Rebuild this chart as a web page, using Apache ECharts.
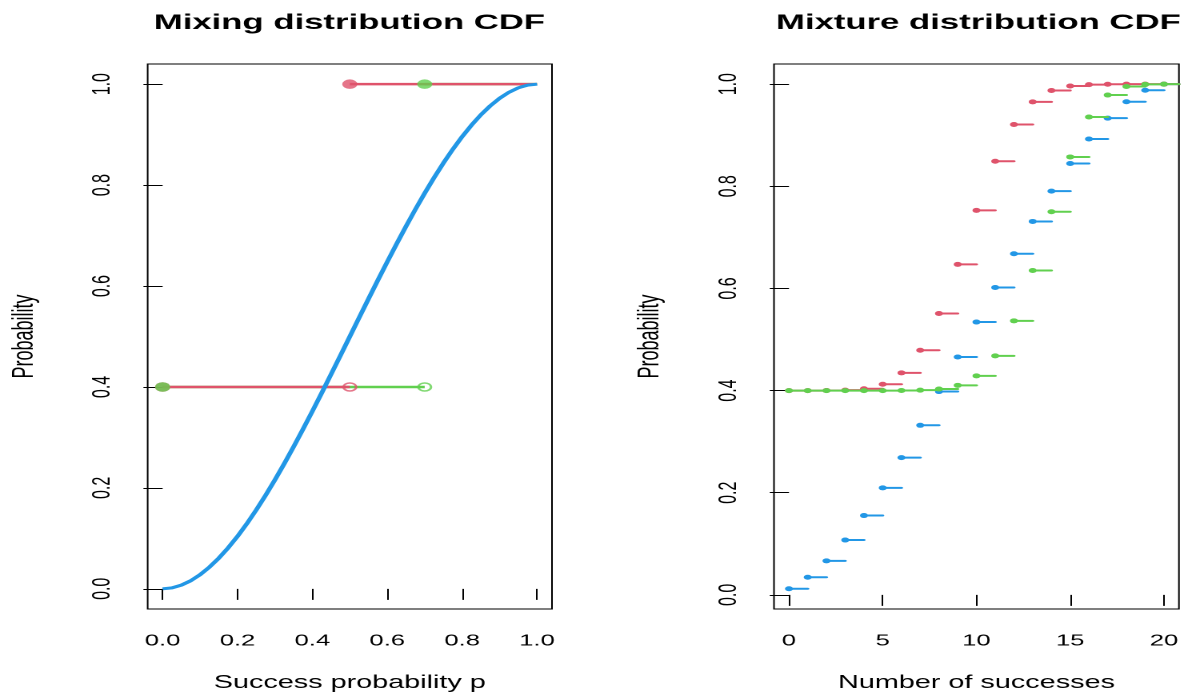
<!DOCTYPE html>
<html>
<head>
<meta charset="utf-8">
<script src="https://cdn.jsdelivr.net/npm/echarts@6/dist/echarts.min.js"></script>
<style>
  html, body { margin: 0; padding: 0; background: #ffffff; }
  #wrap { width: 1184px; height: 695px; overflow: hidden; position: relative; background: #fff; }
  #c { width: 740px; height: 695px; transform: scaleX(1.6); transform-origin: 0 0; }
</style>
</head>
<body>
<div id="wrap"><div id="c"></div></div>
<script>
// ---------- data ----------
const leftTitle = 'Mixing distribution CDF';
const rightTitle = 'Mixture distribution CDF';
const leftXName = 'Success probability p';
const rightXName = 'Number of successes';
const yName = 'Probability';

const leftXTicks = [0, 0.2, 0.4, 0.6, 0.8, 1.0];
const leftXTickLabels = ['0.0', '0.2', '0.4', '0.6', '0.8', '1.0'];
const yTicks = [0, 0.2, 0.4, 0.6, 0.8, 1.0];
const yTickLabels = ['0.0', '0.2', '0.4', '0.6', '0.8', '1.0'];
const rightXTicks = [0, 5, 10, 15, 20];
const rightXTickLabels = ['0', '5', '10', '15', '20'];

// mixing distributions (left): two point-mass mixes and a continuous curve
const redKnots = [0, 0.5];
const redMixCdf = [0.4, 1.0];
const greenKnots = [0, 0.7];
const greenMixCdf = [0.4, 1.0];
const leftXEnd = 1.0;

const curveP = [0, 0.025, 0.05, 0.075, 0.1, 0.125, 0.15, 0.175, 0.2, 0.225, 0.25, 0.275, 0.3, 0.325, 0.35, 0.375,
                0.4, 0.425, 0.45, 0.475, 0.5, 0.525, 0.55, 0.575, 0.6, 0.625, 0.65, 0.675, 0.7, 0.725, 0.75,
                0.775, 0.8, 0.825, 0.85, 0.875, 0.9, 0.925, 0.95, 0.975, 1.0];
const curveCdf = [0, 0.0018, 0.0073, 0.0160, 0.028, 0.0430, 0.0608, 0.0812, 0.104, 0.1291, 0.1563, 0.1853, 0.216,
                  0.2482, 0.2818, 0.3164, 0.352, 0.3883, 0.4253, 0.4625, 0.5, 0.5375, 0.5748, 0.6117, 0.648,
                  0.6836, 0.7183, 0.7518, 0.784, 0.8147, 0.8438, 0.8709, 0.896, 0.9188, 0.9393, 0.9570, 0.972,
                  0.9840, 0.9928, 0.9982, 1.0];

// mixture distributions (right): CDF at 0..20 successes
const successes = [0,1,2,3,4,5,6,7,8,9,10,11,12,13,14,15,16,17,18,19,20];
const redCdf = [0.4000, 0.4000, 0.4001, 0.4008, 0.4035, 0.4124, 0.4346, 0.4790, 0.5510, 0.6471, 0.7529,
                0.8490, 0.9211, 0.9654, 0.9876, 0.9965, 0.9992, 0.9999, 1.0000, 1.0000, 1.0000];
const greenCdf = [0.4000, 0.4000, 0.4000, 0.4000, 0.4000, 0.4000, 0.4002, 0.4008, 0.4031, 0.4103, 0.4288,
                  0.4680, 0.5366, 0.6352, 0.7502, 0.8575, 0.9357, 0.9787, 0.9954, 0.9995, 1.0000];
const blueCdf = [0.0119, 0.0344, 0.0666, 0.1073, 0.1553, 0.2095, 0.2688, 0.3320, 0.3981, 0.4658, 0.5342,
                 0.6019, 0.6680, 0.7312, 0.7905, 0.8447, 0.8927, 0.9334, 0.9656, 0.9881, 1.0000];

// ---------- style ----------
const RED = '#DF536B', GREEN = '#61D04F', BLUE = '#2297E6';
const FONT = '"Liberation Sans", Arial, Helvetica, sans-serif';
const LEFT_X_MIN = -0.04, LEFT_X_MAX = 1.04;
const RIGHT_X_MIN = -0.8, RIGHT_X_MAX = 20.8;
const LEFT_Y_MIN = -0.04, LEFT_Y_MAX = 1.04;
const RIGHT_Y_MIN = -0.0277, RIGHT_Y_MAX = 1.0395;

function lookup(ticks, labels) {
  return function (v) {
    let best = 0, bd = Infinity;
    ticks.forEach((t, i) => { const d = Math.abs(t - v); if (d < bd) { bd = d; best = i; } });
    return labels[best];
  };
}

function stepSegments(knots, cdf, end) {
  const segs = [];
  for (let i = 0; i < knots.length; i++) {
    const x1 = i + 1 < knots.length ? knots[i + 1] : end;
    segs.push([[knots[i], cdf[i]], [x1, cdf[i]]]);
  }
  return segs;
}
function openPoints(knots, cdf) {
  const pts = [];
  for (let i = 0; i + 1 < knots.length; i++) pts.push([knots[i + 1], cdf[i]]);
  return pts;
}
function closedPoints(knots, cdf) {
  return knots.map((k, i) => [k, cdf[i]]);
}

function xAxisCfg(gridIndex, min, max, ticks, labels, name) {
  return {
    gridIndex, type: 'value', min, max,
    name, nameLocation: 'middle', nameGap: 65,
    nameTextStyle: { fontFamily: FONT, fontSize: 18, color: '#000' },
    axisLine: { show: false },
    axisTick: { show: true, customValues: ticks, length: 11, lineStyle: { color: '#000', width: 1 } },
    axisLabel: { show: true, customValues: ticks, formatter: lookup(ticks, labels), margin: 24,
                 fontFamily: FONT, fontSize: 16, color: '#000' },
    splitLine: { show: false }
  };
}
function yAxisCfg(gridIndex, min, max) {
  return {
    gridIndex, type: 'value', min, max,
    name: yName, nameLocation: 'middle', nameGap: 68, nameRotate: 90,
    nameTextStyle: { fontFamily: FONT, fontSize: 18, color: '#000' },
    axisLine: { show: false },
    axisTick: { show: true, customValues: yTicks, length: 12, lineStyle: { color: '#000', width: 1 } },
    axisLabel: { show: true, customValues: yTicks, formatter: lookup(yTicks, yTickLabels), margin: 20, rotate: 90,
                 fontFamily: FONT, fontSize: 16, color: '#000' },
    splitLine: { show: false }
  };
}

function segSeries(segs, color) {
  return segs.map(s => ({
    type: 'line', xAxisIndex: 0, yAxisIndex: 0, data: s, symbol: 'none',
    lineStyle: { color, width: 2.5 }, silent: true, animation: false, z: 2
  }));
}

function stepRender(color) {
  return function (params, api) {
    const k = api.value(0), v = api.value(1);
    const p0 = api.coord([k, v]);
    const p1 = api.coord([Math.min(k + 1, RIGHT_X_MAX), v]);
    return {
      type: 'group',
      children: [
        { type: 'line', shape: { x1: p0[0], y1: p0[1], x2: p1[0], y2: p1[1] },
          style: { stroke: color, lineWidth: 2, lineCap: 'round' } },
        { type: 'circle', shape: { cx: p0[0], cy: p0[1], r: 2.5 }, style: { fill: color } }
      ]
    };
  };
}
function stepSeries(cdf, color, z) {
  return {
    type: 'custom', xAxisIndex: 1, yAxisIndex: 1, z,
    data: successes.map((k, i) => [k, cdf[i]]),
    renderItem: stepRender(color), clip: true, animation: false, silent: true
  };
}

const chart = echarts.init(document.getElementById('c'), null, { renderer: 'canvas', devicePixelRatio: 2 });
const option = {
  backgroundColor: '#ffffff',
  animation: false,
  title: [
    { text: leftTitle, left: 218.4, top: 12, padding: 0, textAlign: 'center',
      textStyle: { fontFamily: FONT, fontSize: 21.7, fontWeight: 'bold', color: '#000' } },
    { text: rightTitle, left: 611.5, top: 12, padding: 0, textAlign: 'center',
      textStyle: { fontFamily: FONT, fontSize: 21.7, fontWeight: 'bold', color: '#000' } }
  ],
  grid: [
    { left: 92.3, top: 64, width: 252.7, height: 545, show: true, borderColor: '#000', borderWidth: 1,
      backgroundColor: 'transparent', containLabel: false, outerBoundsMode: 'none' },
    { left: 483.75, top: 64, width: 253.1, height: 545, show: true, borderColor: '#000', borderWidth: 1,
      backgroundColor: 'transparent', containLabel: false, outerBoundsMode: 'none' }
  ],
  xAxis: [
    xAxisCfg(0, LEFT_X_MIN, LEFT_X_MAX, leftXTicks, leftXTickLabels, leftXName),
    xAxisCfg(1, RIGHT_X_MIN, RIGHT_X_MAX, rightXTicks, rightXTickLabels, rightXName)
  ],
  yAxis: [
    yAxisCfg(0, LEFT_Y_MIN, LEFT_Y_MAX),
    yAxisCfg(1, RIGHT_Y_MIN, RIGHT_Y_MAX)
  ],
  series: [
    ...segSeries(stepSegments(greenKnots, greenMixCdf, leftXEnd), GREEN),
    ...segSeries(stepSegments(redKnots, redMixCdf, leftXEnd), RED),
    { type: 'scatter', xAxisIndex: 0, yAxisIndex: 0, data: closedPoints(redKnots, redMixCdf),
      symbol: 'circle', symbolSize: 9.5, itemStyle: { color: RED }, z: 3, silent: true },
    { type: 'scatter', xAxisIndex: 0, yAxisIndex: 0, data: closedPoints(greenKnots, greenMixCdf),
      symbol: 'circle', symbolSize: 9.5, itemStyle: { color: GREEN }, z: 3, silent: true },
    { type: 'scatter', xAxisIndex: 0, yAxisIndex: 0, data: openPoints(redKnots, redMixCdf),
      symbol: 'circle', symbolSize: 8, itemStyle: { color: 'rgba(255,255,255,0)', borderColor: RED, borderWidth: 1.5 }, z: 3, silent: true },
    { type: 'scatter', xAxisIndex: 0, yAxisIndex: 0, data: openPoints(greenKnots, greenMixCdf),
      symbol: 'circle', symbolSize: 8, itemStyle: { color: 'rgba(255,255,255,0)', borderColor: GREEN, borderWidth: 1.5 }, z: 3, silent: true },
    { type: 'line', xAxisIndex: 0, yAxisIndex: 0, data: curveP.map((p, i) => [p, curveCdf[i]]),
      smooth: false, symbol: 'none', lineStyle: { color: BLUE, width: 3, join: 'round' }, z: 4, silent: true },
    stepSeries(blueCdf, BLUE, 2),
    stepSeries(redCdf, RED, 3),
    stepSeries(greenCdf, GREEN, 4)
  ]
};
chart.setOption(option);
</script>
</body>
</html>
